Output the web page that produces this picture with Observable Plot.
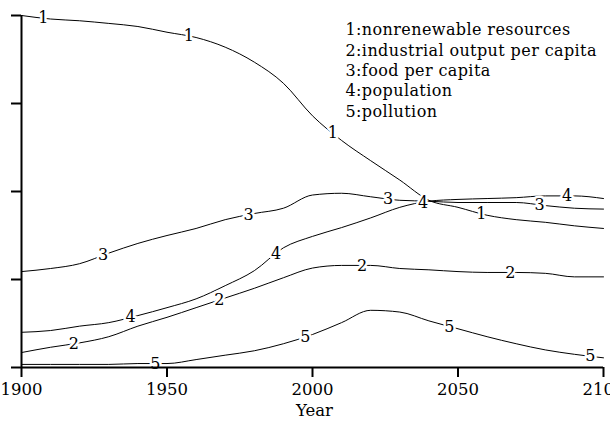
<!DOCTYPE html>
<html><head><meta charset="utf-8">
<script src="https://cdn.jsdelivr.net/npm/d3@7"></script>
<script src="https://cdn.jsdelivr.net/npm/@observablehq/plot@0.6"></script>
<style>body{margin:0;background:#fff} #chart svg{overflow:hidden;display:block}</style>
</head><body><div id="chart"></div>
<script>
const years = [1900,1910,1920,1930,1940,1950,1960,1970,1980,1990,2000,2010,2020,2030,2040,2050,2060,2070,2080,2090,2100];
const resources  = [4.0,3.96,3.94,3.91,3.875,3.81,3.75,3.64,3.47,3.23,2.86,2.58,2.35,2.13,1.90,1.82,1.73,1.68,1.65,1.61,1.58];
const industrial = [0.17,0.23,0.28,0.35,0.47,0.57,0.68,0.79,0.90,1.02,1.13,1.16,1.16,1.125,1.11,1.09,1.08,1.08,1.07,1.03,1.03];
const food       = [1.09,1.125,1.18,1.30,1.41,1.50,1.58,1.68,1.75,1.81,1.96,1.98,1.94,1.90,1.89,1.875,1.875,1.875,1.84,1.81,1.80];
const population = [0.40,0.42,0.47,0.51,0.59,0.68,0.78,0.93,1.10,1.36,1.49,1.59,1.70,1.82,1.89,1.91,1.92,1.93,1.95,1.95,1.92];
const pollution  = [0.035,0.035,0.035,0.035,0.045,0.045,0.09,0.14,0.19,0.27,0.375,0.51,0.65,0.63,0.53,0.44,0.35,0.27,0.20,0.15,0.11];
const seriesNames = ["nonrenewable resources","industrial output per capita","food per capita","population","pollution"];
const seriesValues = [resources, industrial, food, population, pollution];
const labelYears = [
  [1907.5,1957.5,2007,2058],
  [1918,1968,2017,2068],
  [1928,1978,2026,2078],
  [1937.5,1987.5,2038,2087.5],
  [1946,1997.5,2047,2095.5]
];
const xTicks = [1900,1950,2000,2050,2100];
const yTicks = [0,1,2,3,4];
const xLabel = "Year";

function interp(xs, ys, x) {
  for (let i = 0; i < xs.length - 1; i++) {
    if (x >= xs[i] && x <= xs[i+1]) {
      const t = (x - xs[i]) / (xs[i+1] - xs[i]);
      return ys[i] + t * (ys[i+1] - ys[i]);
    }
  }
  return ys[ys.length - 1];
}

const rows = seriesValues.flatMap((vals, i) => vals.map((v, j) => ({series: i + 1, year: years[j], value: v})));
const labelRows = labelYears.flatMap((ys, i) => ys.map(y => ({series: i + 1, year: y, value: interp(years, seriesValues[i], y)})));
const legendText = seriesNames.map((n, i) => `${i + 1}:${n}`).join("\n");

const chart = Plot.plot({
  width: 610, height: 426,
  marginLeft: 21, marginRight: 7, marginTop: 15, marginBottom: 59,
  style: {fontFamily: "DejaVu Serif", fontSize: "16.5px", background: "white", color: "black"},
  x: {domain: [1900, 2100]},
  y: {domain: [0, 4]},
  marks: [
    Plot.line(rows, {x: "year", y: "value", z: "series", stroke: "black", strokeWidth: 1, curve: "monotone-x"}),
    Plot.text(labelRows, {x: "year", y: "value", text: d => String(d.series), fill: "black", stroke: "white", strokeWidth: 5, paintOrder: "stroke", fontSize: 16}),
    Plot.ruleX([1900], {strokeWidth: 2}),
    Plot.ruleY([0], {strokeWidth: 2}),
    Plot.axisY({ticks: yTicks, tickSize: 10, strokeWidth: 2, tickFormat: () => "", label: null}),
    Plot.axisX({ticks: xTicks, tickSize: 10, strokeWidth: 2, tickPadding: 6, tickFormat: d => String(d), label: null}),
    Plot.text([xLabel], {frameAnchor: "bottom", dy: 48, dx: 2}),
    Plot.text([legendText], {frameAnchor: "top-left", dx: 324, dy: 5, textAnchor: "start", lineAnchor: "top", lineHeight: 1.28, fontSize: 16, style: "letter-spacing:0.4px"})
  ]
});
chart.querySelectorAll("text").forEach(t => { if (t.textContent.startsWith("1:")) t.parentNode.style.letterSpacing = "0.4px"; });
document.getElementById("chart").appendChild(chart);
</script>
</body></html>
